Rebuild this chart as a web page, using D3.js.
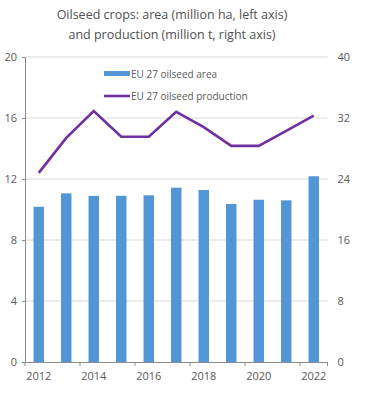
<!DOCTYPE html>
<html><head><meta charset="utf-8">
<script src="https://cdn.jsdelivr.net/npm/d3@7"></script>
<style>
html,body{margin:0;padding:0;background:#fff;}
svg{display:block;font-family:"Open Sans","DejaVu Sans",sans-serif;}
</style></head>
<body>
<svg id="chart" width="367" height="398"></svg>
<script>
const years = ["2012","2013","2014","2015","2016","2017","2018","2019","2020","2021","2022"];
const areaValues = [10.18, 11.06, 10.89, 10.9, 10.93, 11.43, 11.28, 10.36, 10.64, 10.6, 12.18];
const productionValues = [24.8, 29.4, 32.9, 29.55, 29.55, 32.8, 30.8, 28.35, 28.35, 30.3, 32.3];
const leftTicks = [0, 4, 8, 12, 16, 20];
const rightTicks = [0, 8, 16, 24, 32, 40];
const xTickLabels = ["2012","2014","2016","2018","2020","2022"];
const titleLines = ["Oilseed crops: area (million ha, left axis)", "and production (million t, right axis)"];
const seriesNames = ["EU 27 oilseed area", "EU 27 oilseed production"];

const svg = d3.select("#chart");
const m = {left: 25, right: 327.5, top: 57, bottom: 362};
const barColor = "#5296d5", lineColor = "#7030a0", textColor = "#595959", gridColor = "#d9d9d9", axisColor = "#8c8c8c";

const x = d3.scaleBand().domain(years).range([m.left, m.right]).padding(0);
const yL = d3.scaleLinear().domain([0, 20]).range([m.bottom, m.top]);
const yR = d3.scaleLinear().domain([0, 40]).range([m.bottom, m.top]);

// title
svg.append("g").selectAll("text").data(titleLines).join("text")
  .attr("x", 172).attr("y", (d,i) => 19 + i*20)
  .attr("text-anchor", "middle").attr("font-size", 12.5).attr("fill", "#505050")
  .text(d => d);

// gridlines
svg.append("g").selectAll("line").data(leftTicks.filter(d => d > 0)).join("line")
  .attr("x1", m.left).attr("x2", m.right)
  .attr("y1", d => yL(d)).attr("y2", d => yL(d))
  .attr("stroke", gridColor).attr("stroke-width", 1);

// left axis
const gL = svg.append("g").attr("transform", `translate(${m.left},0)`)
  .call(d3.axisLeft(yL).tickValues(leftTicks).tickSize(3).tickPadding(5));
gL.select(".domain").attr("stroke", axisColor);
gL.selectAll(".tick line").attr("stroke", axisColor);
gL.selectAll("text").attr("fill", textColor).attr("font-size", 11).attr("font-family", "Open Sans");

// right axis (labels only)
const gR = svg.append("g").attr("transform", `translate(${m.right},0)`)
  .call(d3.axisRight(yR).tickValues(rightTicks).tickSize(0).tickPadding(10));
gR.select(".domain").remove();
gR.selectAll("text").attr("fill", textColor).attr("font-size", 11).attr("font-family", "Open Sans");

// bars
const bw = x.bandwidth() * 0.38;
svg.append("g").selectAll("rect").data(years).join("rect")
  .attr("x", (d) => x(d) + x.bandwidth()/2 - bw/2)
  .attr("width", bw)
  .attr("y", (d,i) => yL(areaValues[i]))
  .attr("height", (d,i) => yL(0) - yL(areaValues[i]))
  .attr("fill", barColor);

// bottom axis
const gB = svg.append("g").attr("transform", `translate(0,${m.bottom})`)
  .call(d3.axisBottom(x).tickValues(xTickLabels).tickSize(0).tickPadding(10));
gB.select(".domain").attr("stroke", axisColor);
gB.selectAll("text").attr("fill", textColor).attr("font-size", 11).attr("font-family", "Open Sans");
// tick marks at every second band boundary
const bounds = years.filter((d,i) => i % 2 === 0).map(d => x(d)).concat([m.right]);
svg.append("g").selectAll("line").data(bounds).join("line")
  .attr("x1", d => d).attr("x2", d => d)
  .attr("y1", m.bottom).attr("y2", m.bottom + 4)
  .attr("stroke", axisColor);

// line
const line = d3.line()
  .x((d,i) => x(years[i]) + x.bandwidth()/2)
  .y(d => yR(d));
svg.append("path").datum(productionValues)
  .attr("d", line).attr("fill", "none")
  .attr("stroke", lineColor).attr("stroke-width", 2.6).attr("stroke-linejoin", "miter");

// legend
const lg = svg.append("g");
lg.append("rect").attr("x", 104).attr("y", 71).attr("width", 26).attr("height", 5).attr("fill", barColor);
lg.append("line").attr("x1", 104).attr("x2", 130).attr("y1", 96).attr("y2", 96)
  .attr("stroke", lineColor).attr("stroke-width", 2.6);
lg.selectAll("text").data(seriesNames).join("text")
  .attr("x", 131).attr("y", (d,i) => 77.5 + i*22)
  .attr("font-size", 10).attr("fill", textColor)
  .text(d => d);
</script>
</body></html>
